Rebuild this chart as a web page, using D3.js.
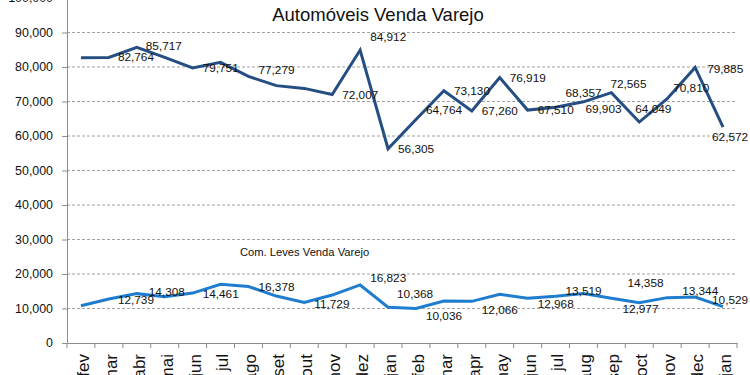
<html>
<head>
  <title></title>
  <style>
    body { margin: 0; background: #fff; overflow: hidden; }
    text { font-family: 'Liberation Sans', Arial, sans-serif; }
  </style>
</head>
<body>
<script src='https://cdn.jsdelivr.net/npm/d3@7/dist/d3.min.js'></script>
<script>
var categories = ['fev', 'mar', 'abr', 'mai', 'jun', 'jul', 'ago', 'set', 'out', 'nov', 'dez', 'jan',
                  'feb', 'mar', 'apr', 'may', 'jun', 'jul', 'aug', 'sep', 'oct', 'nov', 'dec', 'jan']
var autos = [82700, 82764, 85717, 82800, 79751, 81350, 77279, 74600, 73800, 72007, 84912, 56305,
             64764, 73130, 67260, 76919, 67510, 68357, 69903, 72565, 64049, 70810, 79885, 62572]
var leves = [10800, 12739, 14308, 13430, 14461, 17000, 16378, 13600, 11729, 13900, 16823, 10368,
             10036, 12170, 12066, 14100, 12968, 13519, 14358, 12977, 11700, 13150, 13344, 10529]
// which points carry a value label
var autosLabeled = [0, 1, 1, 0, 1, 0, 1, 0, 0, 1, 1, 1, 1, 1, 1, 1, 1, 1, 1, 1, 1, 1, 1, 1]
var levesLabeled = [0, 1, 1, 0, 1, 0, 1, 0, 1, 0, 1, 1, 1, 0, 1, 0, 1, 1, 1, 1, 0, 0, 1, 1]
var yTicks = [0, 10000, 20000, 30000, 40000, 50000, 60000, 70000, 80000, 90000, 100000]

// label offsets (left edge / vertical centre, relative to the point)
var autosLabelPos = [null, [9, -1], [9, -1], null, [10, 0], null, [10, -7], null, null, [10, 0], [10, -13], [10, 0],
                     [10, -10], [10, 0], [10, 0], [10, 0], [10, 0], [10, -14], [2, 7], [-1, -9], [-4, -13], [6, -11], [12, 1], [-11, 10]]
var levesLabelPos = [null, [9, 1], [12, -2], null, [10, 1], null, [10, 0], null, [10, 1], null, [10, -7], [9, -13],
                     [10, 7], null, [10, 8], null, [10, 6], [10, -5], [44, -11], [11, 11], null, null, [-13, -6], [-11, -7]]

var width = 750
var height = 375
var padding = {left: 67, right: 13, bottom: 32}

var svg = d3.select('body')
  .append('svg')
  .attr('width', width)
  .attr('height', height)

var xScale = d3.scaleBand()
  .domain(d3.range(categories.length))
  .range([padding.left, width - padding.right])

var yScale = d3.scaleLinear()
  .domain([0, 100000])
  .range([height - padding.bottom, -2])

var fmt = d3.format(',')

// gridlines
svg.append('g')
  .selectAll('line')
  .data(yTicks.filter(function(d) { return d > 0 }))
  .enter()
  .append('line')
  .attr('x1', padding.left)
  .attr('x2', width - padding.right)
  .attr('y1', function(d) { return yScale(d) })
  .attr('y2', function(d) { return yScale(d) })
  .attr('stroke', '#a0a0a0')
  .attr('stroke-width', 1)
  .attr('stroke-dasharray', '3,2')

// y axis
var yAxis = d3.axisLeft(yScale)
  .tickValues(yTicks)
  .tickFormat(fmt)
  .tickSizeInner(5)
  .tickSizeOuter(0)
  .tickPadding(9)
var gy = svg.append('g')
  .attr('transform', 'translate(' + padding.left + ',0)')
  .call(yAxis)
gy.select('.domain').attr('stroke', '#8c8c8c')
gy.selectAll('.tick line').attr('stroke', '#8c8c8c')
gy.selectAll('.tick text')
  .attr('font-size', '12.4px')
  .attr('font-family', 'Liberation Sans, Arial, sans-serif')
  .attr('fill', '#111')

// x axis
var xAxis = d3.axisBottom(xScale)
  .tickSize(0)
  .tickFormat(function(i) { return categories[i] })
var gx = svg.append('g')
  .attr('transform', 'translate(0,' + (height - padding.bottom) + ')')
  .call(xAxis)
gx.select('.domain').attr('stroke', '#8c8c8c')
gx.selectAll('.tick text')
  .attr('font-size', '17px')
  .attr('font-family', 'Liberation Sans, Arial, sans-serif')
  .attr('fill', '#111')
  .attr('text-anchor', 'end')
  .attr('transform', 'translate(2,11) rotate(-90)')
  .attr('x', 0)
  .attr('y', 0)
  .attr('dy', '0.35em')
// category boundary ticks
gx.selectAll('.sep')
  .data(d3.range(categories.length + 1))
  .enter()
  .append('line')
  .attr('class', 'sep')
  .attr('x1', function(i) { return padding.left + i * xScale.step() })
  .attr('x2', function(i) { return padding.left + i * xScale.step() })
  .attr('y1', 0)
  .attr('y2', 5)
  .attr('stroke', '#8c8c8c')

function cx(i) { return xScale(i) + xScale.bandwidth() / 2 }

function drawSeries(values, labeled, pos, color) {
  var line = d3.line()
    .x(function(d, i) { return cx(i) })
    .y(function(d) { return yScale(d) })
  svg.append('path')
    .datum(values)
    .attr('fill', 'none')
    .attr('stroke', color)
    .attr('stroke-width', 3)
    .attr('stroke-linejoin', 'miter')
    .attr('d', line)

  svg.append('g')
    .selectAll('text')
    .data(values.map(function(v, i) { return {v: v, i: i} }).filter(function(d) { return labeled[d.i] }))
    .enter()
    .append('text')
    .attr('x', function(d) { return cx(d.i) + pos[d.i][0] })
    .attr('y', function(d) { return yScale(d.v) + pos[d.i][1] })
    .attr('dy', '0.35em')
    .attr('font-size', '11.8px')
    .attr('fill', '#111')
    .text(function(d) { return fmt(d.v) })
}

drawSeries(autos, autosLabeled, autosLabelPos, '#254e82')
drawSeries(leves, levesLabeled, levesLabelPos, '#1f7dd0')

// titles
svg.append('text')
  .attr('x', 378)
  .attr('y', 21)
  .attr('text-anchor', 'middle')
  .attr('font-size', '18.5px')
  .attr('fill', '#111')
  .text('Automóveis Venda Varejo')

svg.append('text')
  .attr('x', 240)
  .attr('y', 256)
  .attr('font-size', '11.2px')
  .attr('fill', '#111')
  .text('Com. Leves Venda Varejo')
</script>
</body>
</html>
